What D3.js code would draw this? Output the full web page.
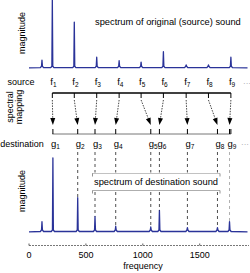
<!DOCTYPE html>
<html><head><meta charset="utf-8">
<script src="https://cdn.jsdelivr.net/npm/d3@7"></script>
<style>body{margin:0;background:#fff}svg{display:block;font-family:"Liberation Sans",Arial,sans-serif}</style>
</head><body><svg id="c" width="250" height="273"></svg>
<script>
// ---- data ----
const freqTicks = [0, 500, 1000, 1500];
const srcPeakFreq = [114, 205, 398, 595, 792, 985, 1181, 1381, 1577, 1774];
const srcPeakMag  = [0.13, 1.0, 0.68, 0.17, 0.12, 0.10, 0.25, 0.06, 0.06, 0.17];
const dstPeakFreq = [114, 210, 428, 580, 762, 1070, 1146, 1392, 1656, 1762];
const dstPeakMag  = [0.15, 1.0, 0.47, 0.22, 0.09, 0.08, 0.30, 0.07, 0.07, 0.15];
const srcLabels = ["1","2","3","4","5","6","7","8","9"];
const sourceFreqs = [205, 398, 595, 792, 985, 1181, 1381, 1577, 1774];
const destFreqs   = [210, 428, 580, 762, 1070, 1146, 1392, 1656, 1762];

const svg = d3.select("#c");
const x = d3.scaleLinear().domain([0, 1920]).range([29, 247.5]);
const yTop = d3.scaleLinear().domain([0, 1]).range([69, 0]);
const yBot = d3.scaleLinear().domain([0, 1]).range([233, 158]);
const blue = "#2a3399";

function spectrumPoints(freqs, mags) {
  const pts = [[0, 0.015]];
  freqs.forEach((f, i) => {
    pts.push([f - 14, 0.02], [f - 4, 0.04], [f, mags[i]], [f + 4, 0.04], [f + 14, 0.02]);
  });
  pts.push([1920, 0.015]);
  return pts.sort((a, b) => a[0] - b[0]);
}
function drawSpectrum(ys, freqs, mags) {
  const line = d3.line().x(d => x(d[0])).y(d => ys(d[1]));
  svg.append("path").attr("d", line(spectrumPoints(freqs, mags)))
    .attr("fill", "none").attr("stroke", blue).attr("stroke-width", 1.3)
    .attr("stroke-linejoin", "round");
}
drawSpectrum(yTop, srcPeakFreq, srcPeakMag);
drawSpectrum(yBot, dstPeakFreq, dstPeakMag);

// texts
svg.append("text").attr("x", 95).attr("y", 25).attr("font-size", 9.3).text("spectrum of original (source) sound");
svg.append("text").attr("transform", "translate(25,33) rotate(-90)").attr("text-anchor", "middle").attr("font-size", 9).text("magnitude");
svg.append("text").attr("transform", "translate(25,191) rotate(-90)").attr("text-anchor", "middle").attr("font-size", 9).text("magnitude");
svg.append("text").attr("x", 21).attr("y", 85).attr("text-anchor", "middle").attr("font-size", 9).text("source");
svg.append("text").attr("x", 22).attr("y", 147).attr("text-anchor", "middle").attr("font-size", 9).text("destination");
svg.append("text").attr("transform", "translate(13,107) rotate(-90)").attr("text-anchor", "middle").attr("font-size", 9).text("spectral");
svg.append("text").attr("transform", "translate(21.5,107) rotate(-90)").attr("text-anchor", "middle").attr("font-size", 9).text("mapping");

function subLabel(letter, sub, cx, baseY, color) {
  const t = svg.append("text").attr("x", cx - 2).attr("y", baseY).attr("font-size", 9.5).attr("fill", color || "#000");
  t.append("tspan").text(letter);
  t.append("tspan").attr("font-size", 6.5).attr("dy", 2).text(sub);
}
sourceFreqs.forEach((f, i) => subLabel("f", srcLabels[i], x(f), 85));
destFreqs.forEach((f, i) => subLabel("g", srcLabels[i], x(f), 147));
svg.append("text").attr("x", 243).attr("y", 86).attr("font-size", 8).attr("fill", "#999").text("···");
svg.append("text").attr("x", 241).attr("y", 147).attr("font-size", 8).attr("fill", "#999").text("···");

// source bracket
const sx0 = x(sourceFreqs[0]), sx1 = x(sourceFreqs[sourceFreqs.length - 1]);
svg.append("line").attr("x1", sx0).attr("x2", sx1).attr("y1", 93).attr("y2", 93).attr("stroke", "#000").attr("stroke-width", 1.3);
sourceFreqs.forEach(f => svg.append("line").attr("x1", x(f)).attr("x2", x(f)).attr("y1", 93).attr("y2", 98).attr("stroke", "#000").attr("stroke-width", 1));
// destination bracket
svg.append("line").attr("x1", sx0).attr("x2", sx1).attr("y1", 134).attr("y2", 134).attr("stroke", "#777").attr("stroke-width", 1);
destFreqs.forEach(f => svg.append("line").attr("x1", x(f)).attr("x2", x(f)).attr("y1", 129).attr("y2", 134).attr("stroke", "#000").attr("stroke-width", 1));
svg.append("line").attr("x1", sx1).attr("x2", sx1).attr("y1", 129).attr("y2", 134).attr("stroke", "#000").attr("stroke-width", 1);

// arrows
svg.append("defs").append("marker").attr("id", "ah").attr("viewBox", "0 0 6 8")
  .attr("refX", 3).attr("refY", 8).attr("markerWidth", 5).attr("markerHeight", 7)
  .attr("orient", "auto-start-reverse").attr("markerUnits", "userSpaceOnUse")
  .append("path").attr("d", "M0,0 L6,0 L3,8 Z").attr("fill", "#000");
sourceFreqs.forEach((f, i) => {
  const x1 = x(f), x2 = x(destFreqs[i]);
  const y1 = 100, y2 = 125;
  const ang = Math.atan2(y2 - y1, x2 - x1);
  svg.append("line").attr("x1", x1).attr("y1", y1)
    .attr("x2", x2 - Math.cos(ang) * 6).attr("y2", y2 - Math.sin(ang) * 6)
    .attr("stroke", "#333").attr("stroke-width", 0.9).attr("stroke-dasharray", "1.5,1.2");
  const hx = x2 - Math.cos(ang) * 7, hy = y2 - Math.sin(ang) * 7;
  const deg = ang * 180 / Math.PI - 90;
  svg.append("path").attr("d", "M-2.5,0 L2.5,0 L0,7 Z")
    .attr("transform", `translate(${hx},${hy}) rotate(${deg})`).attr("fill", "#000");
});

// destination text box
const bx0 = 92.5, bx1 = 220;
svg.append("line").attr("x1", bx0).attr("x2", bx1).attr("y1", 173.5).attr("y2", 173.5).attr("stroke", "#666").attr("stroke-width", 0.8).attr("stroke-dasharray", "1,1");
svg.append("line").attr("x1", bx0).attr("x2", bx1).attr("y1", 190.5).attr("y2", 190.5).attr("stroke", "#999").attr("stroke-width", 0.8);
[bx0, bx1].forEach(bx => {
  svg.append("line").attr("x1", bx).attr("x2", bx).attr("y1", 173.5).attr("y2", 176.5).attr("stroke", "#666").attr("stroke-width", 0.7);
  svg.append("line").attr("x1", bx).attr("x2", bx).attr("y1", 190.5).attr("y2", 193.5).attr("stroke", "#666").attr("stroke-width", 0.7);
});
svg.append("text").attr("x", 94).attr("y", 185).attr("font-size", 9.3).text("spectrum of destination sound");

// dashed guide lines g -> peaks
destFreqs.forEach((f, i) => {
  if (i === 0) return;
  const gx = x(f);
  const peakY = yBot(dstPeakMag[i + 1]);
  const col = i === destFreqs.length - 1 ? "#999" : "#222";
  const segs = (gx > bx0 && gx < bx1) ? [[152, 172.5], [192, peakY]] : [[152, peakY]];
  segs.forEach(s => svg.append("line").attr("x1", gx).attr("x2", gx).attr("y1", s[0]).attr("y2", s[1])
    .attr("stroke", col).attr("stroke-width", 0.8).attr("stroke-dasharray", "3,3"));
});

// frequency axis
const ax = svg.append("g").attr("transform", "translate(0,245.5)");
ax.append("line").attr("x1", 29).attr("x2", 249).attr("stroke", "#555").attr("stroke-width", 0.8).attr("stroke-dasharray", "2,1");
freqTicks.forEach(t => {
  ax.append("line").attr("x1", x(t)).attr("x2", x(t)).attr("y1", 0).attr("y2", -2).attr("stroke", "#333").attr("stroke-width", 0.8);
  ax.append("text").attr("x", x(t)).attr("y", 12.5).attr("text-anchor", "middle").attr("font-size", 9).text(t);
});
svg.append("text").attr("x", 143).attr("y", 269).attr("text-anchor", "middle").attr("font-size", 9).text("frequency");
</script></body></html>
